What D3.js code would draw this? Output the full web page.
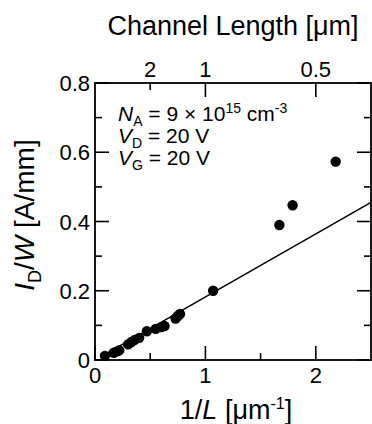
<!DOCTYPE html>
<html>
<head>
<meta charset="utf-8">
<script src="https://cdn.jsdelivr.net/npm/d3@7"></script>
<style>
  body { margin: 0; background: #fff; }
  svg { display: block; font-family: "Liberation Sans", Arial, sans-serif; }
</style>
</head>
<body>
<svg id="chart" width="372" height="424"></svg>
<script>
// measured points, 1/L [um^-1] vs ID/W [A/mm]
const invL = [0.09, 0.17, 0.2, 0.22, 0.3, 0.33, 0.36, 0.4, 0.47, 0.55, 0.6, 0.63, 0.73, 0.75, 0.77, 1.07, 1.67, 1.79, 2.18];
const idw  = [0.012, 0.021, 0.025, 0.028, 0.045, 0.052, 0.058, 0.064, 0.083, 0.09, 0.095, 0.098, 0.12, 0.127, 0.133, 0.2, 0.39, 0.447, 0.573];

// linear fit
const fitX = [0.05, 2.5];
const fitY = [0.009, 0.455];

const xMajor = [0, 1, 2];
const xMinor = [0.5, 1.5];
const yMajor = [0, 0.2, 0.4, 0.6, 0.8];
const yMinor = [0.1, 0.3, 0.5, 0.7];
const lengthLabels = [2, 1, 0.5];   // channel length [um] on top axis

const svg = d3.select("#chart");
const m = {left: 95, right: 371, top: 83, bottom: 360};

const x = d3.scaleLinear().domain([0, 2.5]).range([m.left, m.right]);
const y = d3.scaleLinear().domain([0, 0.8]).range([m.bottom, m.top]);

const fmt = d => d === 0 ? "0" : d3.format(".1f")(d);

// frame
svg.append("rect")
    .attr("x", m.left).attr("y", m.top)
    .attr("width", m.right - m.left).attr("height", m.bottom - m.top)
    .attr("fill", "none").attr("stroke", "#000").attr("stroke-width", 1.8);

// tick marks, pointing inward
const tk = svg.append("g");
function vTicks(vals, len, pos, dir) {
    vals.forEach(d => tk.append("line").attr("stroke", "#000").attr("stroke-width", 1.6)
        .attr("x1", x(d)).attr("x2", x(d)).attr("y1", pos).attr("y2", pos + dir * len));
}
function hTicks(vals, len, pos, dir) {
    vals.forEach(d => tk.append("line").attr("stroke", "#000").attr("stroke-width", 1.6)
        .attr("y1", y(d)).attr("y2", y(d)).attr("x1", pos).attr("x2", pos + dir * len));
}
vTicks(xMajor, 14, m.bottom, -1);
vTicks(xMinor, 7, m.bottom, -1);
hTicks(yMajor, 14, m.left, 1);
hTicks(yMinor, 7, m.left, 1);
hTicks(yMajor, 14, m.right, -1);
hTicks(yMinor, 7, m.right, -1);
vTicks(lengthLabels.filter(l => l !== 2).map(l => 1 / l), 14, m.top, 1);
vTicks(lengthLabels.filter(l => l === 2).map(l => 1 / l), 7, m.top, 1);

// tick labels as plain text
svg.append("g").selectAll("text").data(xMajor).join("text")
    .attr("x", d => x(d)).attr("y", m.bottom + 23).attr("text-anchor", "middle")
    .style("font-size", "22px").text(d => d);
svg.append("g").selectAll("text").data(yMajor).join("text")
    .attr("x", m.left - 5).attr("y", d => y(d) + 8).attr("text-anchor", "end")
    .style("font-size", "22px").text(fmt);
svg.append("g").selectAll("text").data(lengthLabels).join("text")
    .attr("x", d => x(1 / d)).attr("y", m.top - 6).attr("text-anchor", "middle")
    .style("font-size", "22px").text(d => d);

// fit line
svg.append("line")
    .attr("x1", x(fitX[0])).attr("y1", y(fitY[0]))
    .attr("x2", x(fitX[1])).attr("y2", y(fitY[1]))
    .attr("stroke", "#000").attr("stroke-width", 1.5);

// points
svg.append("g").selectAll("circle")
    .data(invL.map((v, i) => [v, idw[i]]))
    .join("circle")
    .attr("cx", d => x(d[0])).attr("cy", d => y(d[1]))
    .attr("r", 5.2).attr("fill", "#000");

// titles
svg.append("text")
    .attr("x", 233).attr("y", 35).attr("text-anchor", "middle")
    .style("font-size", "27px").text("Channel Length [μm]");

const xt = svg.append("text")
    .attr("x", 236).attr("y", 419).attr("text-anchor", "middle")
    .style("font-size", "27px");
xt.append("tspan").text("1/");
xt.append("tspan").style("font-style", "italic").text("L");
xt.append("tspan").text(" [μm");
xt.append("tspan").attr("dy", -10).style("font-size", "16px").text("-1");
xt.append("tspan").attr("dy", 10).text("]");

const yt = svg.append("text")
    .attr("transform", "translate(34,215) rotate(-90)")
    .attr("text-anchor", "middle")
    .style("font-size", "28px");
yt.append("tspan").style("font-style", "italic").text("I");
yt.append("tspan").attr("dy", 7).style("font-size", "18px").text("D");
yt.append("tspan").attr("dy", -7).text("/");
yt.append("tspan").style("font-style", "italic").text("W");
yt.append("tspan").text(" [A/mm]");

// condition annotation
const notes = [
    {sym: "N", sub: "A", rest: " = 9 × 10", sup: "15", tail: " cm", sup2: "-3"},
    {sym: "V", sub: "D", rest: " = 20 V"},
    {sym: "V", sub: "G", rest: " = 20 V"}
];
notes.forEach((n, i) => {
    const t = svg.append("text")
        .attr("x", 118).attr("y", 121 + i * 22)
        .style("font-size", "21px");
    t.append("tspan").style("font-style", "italic").text(n.sym);
    t.append("tspan").attr("dy", 5).style("font-size", "14px").text(n.sub);
    t.append("tspan").attr("dy", -5).text(n.rest);
    if (n.sup) {
        t.append("tspan").attr("dy", -8).style("font-size", "14px").text(n.sup);
        t.append("tspan").attr("dy", 8).text(n.tail);
        t.append("tspan").attr("dy", -8).style("font-size", "14px").text(n.sup2);
    }
});
</script>
</body>
</html>
